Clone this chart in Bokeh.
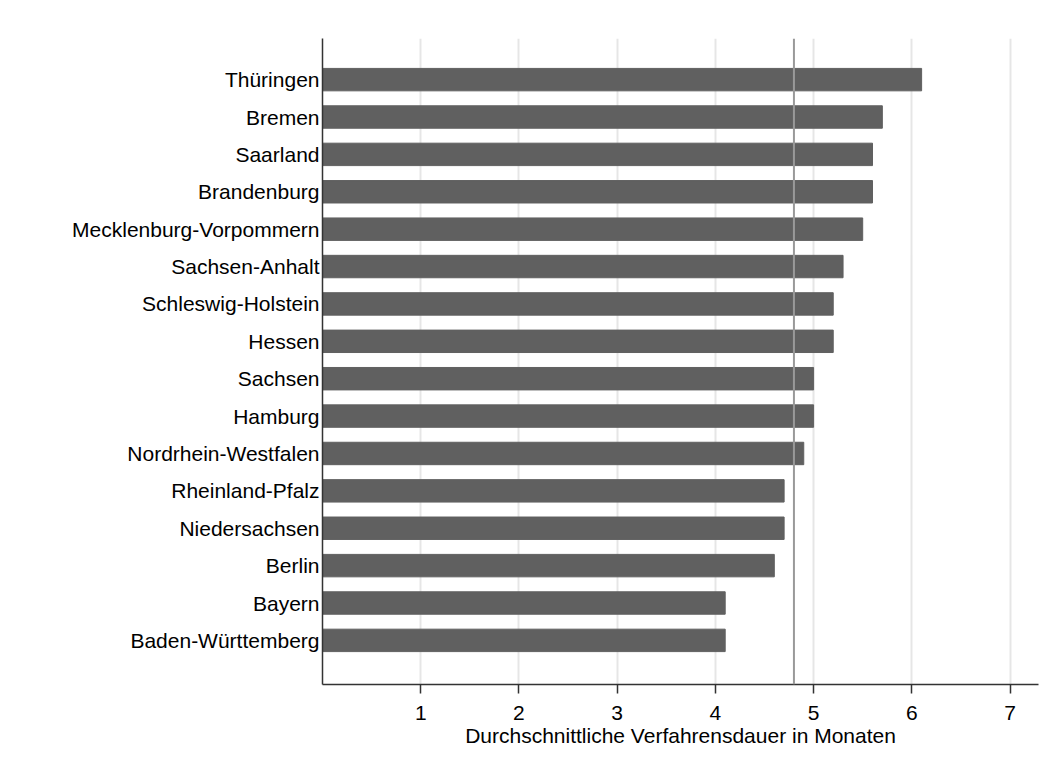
from bokeh.plotting import figure
from bokeh.models import Span, Range1d, FixedTicker
from bokeh.embed import file_html
from bokeh.resources import INLINE

states = ["Baden-Württemberg", "Bayern", "Berlin", "Niedersachsen", "Rheinland-Pfalz",
          "Nordrhein-Westfalen", "Hamburg", "Sachsen", "Hessen", "Schleswig-Holstein",
          "Sachsen-Anhalt", "Mecklenburg-Vorpommern", "Brandenburg", "Saarland", "Bremen", "Thüringen"]
values = [4.1, 4.1, 4.6, 4.7, 4.7, 4.9, 5.0, 5.0, 5.2, 5.2, 5.3, 5.5, 5.6, 5.6, 5.7, 6.1]
average = 4.8
x_ticks = [1, 2, 3, 4, 5, 6, 7]

positions = list(range(1, len(states) + 1))

p = figure(width=1051, height=764, output_backend="svg", toolbar_location=None,
           y_range=Range1d(-0.18, 17.1), x_range=Range1d(0, 7.29),
           min_border_left=322, min_border_right=13, min_border_top=38, min_border_bottom=80)

p.hbar(y=positions, right=values, left=0, height=0.6, color="#606060")
p.add_layout(Span(location=average, dimension="height", line_color="#999999", line_width=2))

p.outline_line_color = None
p.ygrid.grid_line_color = None
p.xgrid.grid_line_color = "#e6e6e6"
p.xgrid.grid_line_width = 2
p.xgrid.ticker = FixedTicker(ticks=x_ticks)
p.xaxis.ticker = FixedTicker(ticks=x_ticks)
p.yaxis.ticker = FixedTicker(ticks=positions)
p.yaxis.major_label_overrides = {pos: name for pos, name in zip(positions, states)}

font = "Liberation Sans"
for ax in (p.xaxis[0], p.yaxis[0]):
    ax.major_label_text_font = font
    ax.major_label_text_font_size = "21px"
    ax.major_label_text_color = "#000000"
    ax.axis_line_color = "#333333"
    ax.axis_line_width = 1.5
    ax.minor_tick_line_color = None

p.yaxis.major_tick_line_color = None
p.yaxis.major_tick_in = 0
p.yaxis.major_tick_out = 0
p.yaxis.major_label_standoff = 3
p.xaxis.major_tick_in = 0
p.xaxis.major_tick_out = 9
p.xaxis.major_tick_line_color = "#333333"
p.xaxis.major_tick_line_width = 1.5
p.xaxis.major_label_standoff = 12
p.xaxis.axis_label = "Durchschnittliche Verfahrensdauer in Monaten"
p.xaxis.axis_label_text_font = font
p.xaxis.axis_label_text_font_size = "21px"
p.xaxis.axis_label_text_font_style = "normal"
p.xaxis.axis_label_text_color = "#000000"
p.xaxis.axis_label_standoff = 1

open("out.html", "w").write(file_html(p, INLINE))
